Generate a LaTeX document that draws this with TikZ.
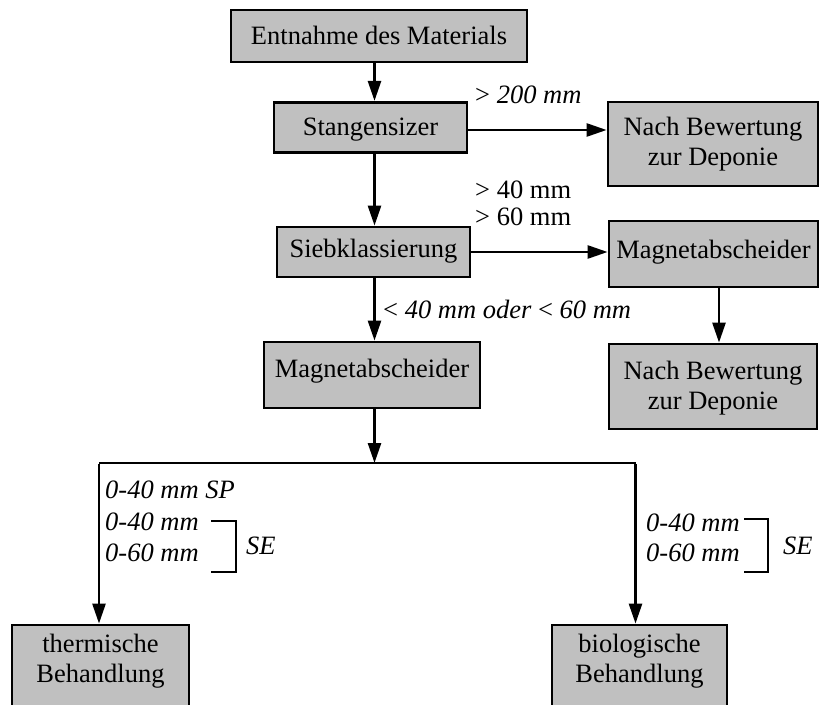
\documentclass[tikz,border=0pt]{standalone}
\usepackage{fontspec}
\setmainfont{Liberation Serif}
\usetikzlibrary{arrows.meta}
\definecolor{boxgray}{RGB}{192,192,192}
\newcommand{\twoline}[2]{\begin{tabular}[t]{@{}c@{}}#1\\#2\end{tabular}}
\tikzset{
  box/.style={draw=black, line width=2.8pt, fill=boxgray, inner sep=0pt, text height=18pt},
  arr/.style={line width=2.6pt, -{Triangle[length=20pt,width=13pt]}},
  plain/.style={line width=2.6pt},
  lbl/.style={inner sep=0pt, anchor=base west},
  every node/.style={font=\fontsize{26.5}{30}\selectfont}
}
\begin{document}
\begin{tikzpicture}[x=1pt,y=-1pt]
\useasboundingbox (0,0) rectangle (819,704);
% boxes
\node[box, minimum width=296pt, minimum height=52pt, text depth=2pt] (entn) at (379,36) {Entnahme des Materials};
\node[box, minimum width=193pt, minimum height=50pt, text depth=2pt] (stang) at (370.5,127.3) {Stangensizer};
\node[box, minimum width=210pt, minimum height=84pt, text depth=36pt] (nach1) at (713,144) {\twoline{Nach Bewertung}{zur Deponie}};
\node[box, minimum width=193pt, minimum height=50pt, text depth=8pt] (sieb) at (373.5,252) {Siebklassierung};
\node[box, minimum width=209pt, minimum height=66pt, text depth=9.4pt] (magR) at (713.5,254) {Magnetabscheider};
\node[box, minimum width=216pt, minimum height=66pt, text depth=14pt] (magL) at (372,375) {Magnetabscheider};
\node[box, minimum width=208pt, minimum height=85pt, text depth=33pt] (nach2) at (713,386.5) {\twoline{Nach Bewertung}{zur Deponie}};
\node[box, minimum width=177pt, minimum height=100pt, text depth=64pt] (therm) at (100.5,675) {\twoline{thermische}{Behandlung}};
\node[box, minimum width=175pt, minimum height=100pt, text depth=64pt] (bio) at (639.5,675) {\twoline{biologische}{Behandlung}};
% helper coordinates
\coordinate (colA) at (374.5,0);
\coordinate (rowS) at (0,130);
\coordinate (colR) at (719,0);
\coordinate (split) at (374.5,463);
\coordinate (splitL) at (99,463);
\coordinate (splitR) at (635.5,463);
% connectors
\draw[arr] (entn.south -| colA) -- (stang.north -| colA);
\draw[arr] (stang.south -| colA) -- (sieb.north -| colA);
\draw[arr] (sieb.south -| colA) -- (magL.north -| colA);
\draw[arr] (magL.south -| colA) -- (split);
\draw[arr] (stang.east |- rowS) -- (nach1.west |- rowS);
\draw[arr] (sieb.east) -- (sieb.east -| magR.west);
\draw[arr] (magR.south -| colR) -- (nach2.north -| colR);
\draw[plain] (splitL) -- (splitR);
\draw[arr] ([yshift=-1.3pt]splitL) -- (therm.north -| splitL);
\draw[arr] ([yshift=-1.3pt]splitR) -- (bio.north -| splitR);
% labels
\node[lbl] (l200) at (475,103) {> \textit{200 mm}};
\node[lbl] (l40) at (475,198) {> 40 mm};
\node[lbl] (l60) at (475,225) {> 60 mm};
\node[lbl] (lsmall) at (383,318) {<\textit{ 40 mm oder }<\textit{ 60 mm}};
\node[lbl] (lsp) at (105,498) {\textit{0-40 mm SP}};
\node[lbl] (lL40) at (105,530) {\textit{0-40 mm}};
\node[lbl] (lL60) at (105,561) {\textit{0-60 mm}};
\node[lbl] (lLSE) at (246,554) {\textit{SE}};
\node[lbl] (lR40) at (646,531) {\textit{0-40 mm}};
\node[lbl] (lR60) at (646,561) {\textit{0-60 mm}};
\node[lbl] (lRSE) at (783,554) {\textit{SE}};
% brackets
\draw[line width=2.4pt] (211,521) -- (236,521) -- (236,572) -- (211,572);
\draw[line width=2.4pt] (744,519) -- (768,519) -- (768,572) -- (744,572);
\end{tikzpicture}
\end{document}
